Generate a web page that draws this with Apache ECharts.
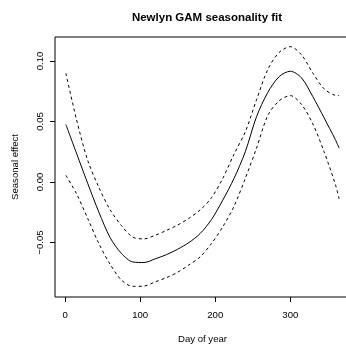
<!DOCTYPE html>
<html>
<head>
<meta charset="utf-8">
<script src="https://cdn.jsdelivr.net/npm/echarts@6/dist/echarts.min.js"></script>
<style>
  html, body { margin: 0; padding: 0; background: #fff; }
  #chart { width: 346px; height: 344px; }
</style>
</head>
<body>
<div id="chart"></div>
<script>
// day of year at which the curves were read
const days = [1, 15, 30, 45, 60, 75, 90, 105, 120, 135, 150, 165, 180, 195, 210, 225, 240, 255, 270, 285, 300, 315, 330, 345, 360, 365];

const fit = [0.0475, 0.024, -0.001, -0.025, -0.046, -0.059, -0.066, -0.0665, -0.0635, -0.060, -0.0555, -0.050, -0.0425, -0.031, -0.015, 0.003, 0.025, 0.054, 0.074, 0.087, 0.0915, 0.086, 0.0705, 0.053, 0.035, 0.028];
const upper = [0.0898, 0.052, 0.018, -0.0045, -0.023, -0.036, -0.0455, -0.047, -0.044, -0.040, -0.0355, -0.030, -0.023, -0.013, 0.003, 0.023, 0.0415, 0.068, 0.093, 0.107, 0.1118, 0.105, 0.090, 0.077, 0.0716, 0.0714];
const lower = [0.0055, -0.0095, -0.030, -0.051, -0.068, -0.081, -0.0862, -0.086, -0.0825, -0.079, -0.0745, -0.0685, -0.0618, -0.0508, -0.037, -0.020, 0.003, 0.028, 0.055, 0.067, 0.0714, 0.064, 0.048, 0.025, -0.002, -0.014];

const xTicks = [0, 100, 200, 300];
const yTicks = [-0.05, 0, 0.05, 0.1];

const FONT = "Liberation Sans, Arial, Helvetica, sans-serif";

function pairs(values) {
  return days.map((d, i) => [d, values[i]]);
}

function lineSeries(name, values, dashed) {
  return {
    name,
    type: "line",
    data: pairs(values),
    symbol: "none",
    smooth: 0.3,
    lineStyle: {
      color: "#000",
      width: 1,
      type: dashed ? [3, 3] : "solid"
    },
    silent: true
  };
}

const chart = echarts.init(document.getElementById("chart"), null, { renderer: "canvas" });

chart.setOption({
  animation: false,
  backgroundColor: "#fff",
  title: {
    text: "Newlyn GAM seasonality fit",
    left: 202,
    top: 7,
    textAlign: "center",
    textStyle: { fontFamily: FONT, fontSize: 11.5, fontWeight: "bold", color: "#000" }
  },
  grid: {
    show: true,
    left: 55,
    top: 37,
    width: 295,
    height: 260,
    outerBoundsMode: "none",
    borderColor: "#000",
    borderWidth: 1,
    backgroundColor: "transparent"
  },
  xAxis: {
    type: "value",
    min: -13.5,
    max: 379.5,
    name: "Day of year",
    nameLocation: "middle",
    nameGap: 37,
    nameTextStyle: { fontFamily: FONT, fontSize: 9.6, color: "#000" },
    axisLine: { show: false, onZero: false },
    splitLine: { show: false },
    axisTick: { show: true, inside: false, length: 5, customValues: xTicks, lineStyle: { color: "#000" } },
    axisLabel: { customValues: xTicks, margin: 13, fontFamily: FONT, fontSize: 9.6, color: "#000" }
  },
  yAxis: {
    type: "value",
    min: -0.095,
    max: 0.1198,
    name: "Seasonal effect",
    nameLocation: "middle",
    nameGap: 35,
    nameTextStyle: { fontFamily: FONT, fontSize: 9.6, color: "#000" },
    axisLine: { show: false, onZero: false },
    splitLine: { show: false },
    axisTick: { show: true, inside: false, length: 5, customValues: yTicks, lineStyle: { color: "#000" } },
    axisLabel: {
      customValues: yTicks,
      rotate: 90,
      margin: 10,
      fontFamily: FONT,
      fontSize: 9.6,
      color: "#000",
      formatter: (v) => (v < 0 ? "\u2212" : "") + Math.abs(v).toFixed(2)
    }
  },
  series: [
    lineSeries("upper", upper, true),
    lineSeries("fit", fit, false),
    lineSeries("lower", lower, true)
  ]
});
</script>
</body>
</html>
